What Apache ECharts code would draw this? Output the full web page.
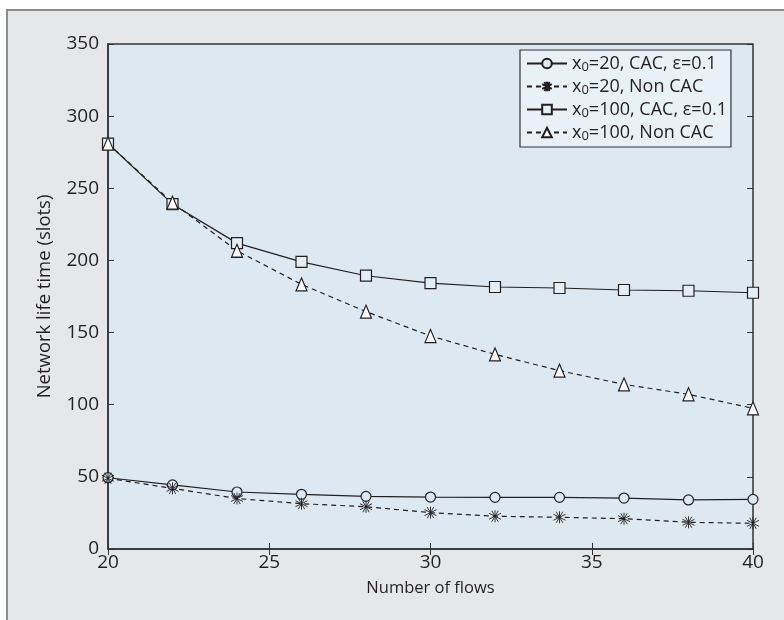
<!DOCTYPE html>
<html>
<head>
<meta charset="utf-8">
<script src="https://cdn.jsdelivr.net/npm/echarts@6/dist/echarts.min.js"></script>
<style>
  * { margin: 0; padding: 0; }
  body { background: #ffffff; }
  #frame {
    position: absolute;
    left: 6px;
    top: 9px;
    width: 800px;
    height: 609px;
    background: #e6e7e8;
    border-left: 2px solid #8d8d8d;
    border-top: 2px solid #8d8d8d;
    border-bottom: 2px solid #8d8d8d;
  }
  #chart {
    position: absolute;
    left: 0;
    top: 0;
    width: 784px;
    height: 620px;
  }
</style>
</head>
<body>
<div id="frame"></div>
<div id="chart"></div>
<script>
// number of flows
var flows = [20, 22, 24, 26, 28, 30, 32, 34, 36, 38, 40]
// network life time (slots)
var x20Cac = [49.4, 44.4, 39.5, 37.9, 36.5, 36.0, 35.8, 35.8, 35.3, 34.0, 34.4]
var x20NonCac = [49.0, 42.0, 35.0, 31.4, 29.3, 25.2, 22.7, 22.0, 21.0, 18.5, 17.8]
var x100Cac = [281, 239, 212, 199, 189.4, 184.3, 181.6, 180.9, 179.5, 179.0, 177.6]
var x100NonCac = [281, 240, 206.7, 183.4, 164.5, 147.6, 134.9, 123.6, 114.1, 107.2, 97.5]

var names = ['x0=20, CAC, ε=0.1', 'x0=20, Non CAC', 'x0=100, CAC, ε=0.1', 'x0=100, Non CAC']

function pairs(ys) {
  return flows.map(function (f, i) { return [f, ys[i]] })
}

var font = '"Open Sans", "Noto Sans", sans-serif'
var ink = '#231f20'
var starPath = 'path://M0,-5L0,5M-4.6,-2.5L4.6,2.5M-4.6,2.5L4.6,-2.5M-2.5,-4.6L2.5,4.6M2.5,-4.6L-2.5,4.6'

function mkSeries(name, ys, symbol, size, fill, dashed, bw) {
  return {
    name: name,
    type: 'line',
    data: pairs(ys),
    symbol: symbol,
    symbolSize: size,
    showAllSymbol: true,
    lineStyle: { color: ink, width: 1.2, type: dashed ? [5, 4] : 'solid' },
    itemStyle: { color: fill, borderColor: ink, borderWidth: bw },
    emphasis: { disabled: true },
    z: 3
  }
}

var chart = echarts.init(document.getElementById('chart'))
chart.setOption({
  animation: false,
  textStyle: { fontFamily: font },
  grid: {
    left: 108, right: 31, top: 44, bottom: 71,
    show: true,
    backgroundColor: '#dce9f3',
    borderColor: '#333333',
    borderWidth: 1.5
  },
  legend: {
    orient: 'vertical',
    left: 520,
    top: 50,
    padding: [3, 4, 4, 6],
    itemGap: 2,
    itemWidth: 40,
    itemHeight: 12,
    backgroundColor: '#e9f1f8',
    borderColor: '#333333',
    borderWidth: 1.2,
    borderRadius: 0,
    data: names,
    formatter: function (n) { return n.replace('x0', 'x{sub|0}') },
    textStyle: {
      fontFamily: font,
      fontSize: 18,
      color: ink,
      lineHeight: 21,
      rich: {
        sub: { fontSize: 13, fontFamily: font, color: ink, padding: [8, 0, 0, 0] }
      }
    }
  },
  xAxis: [{
    type: 'value',
    min: 20, max: 40, interval: 5,
    name: 'Number of flows',
    nameLocation: 'middle',
    nameGap: 31,
    nameTextStyle: { fontSize: 16.5, color: ink },
    axisLine: { lineStyle: { color: '#333333', width: 1.5 } },
    axisTick: { inside: true, length: 6, lineStyle: { color: '#333333' } },
    axisLabel: { fontSize: 19, color: ink, margin: 4 },
    splitLine: { show: false }
  }, {
    type: 'value',
    position: 'top',
    min: 20, max: 40, interval: 5,
    axisLine: { show: false },
    axisTick: { inside: true, length: 6, lineStyle: { color: '#333333' } },
    axisLabel: { show: false },
    splitLine: { show: false }
  }],
  yAxis: [{
    type: 'value',
    min: 0, max: 350, interval: 50,
    name: 'Network life time (slots)',
    nameLocation: 'middle',
    nameGap: 54,
    nameTextStyle: { fontSize: 18.5, color: ink },
    axisLine: { show: true, lineStyle: { color: '#333333', width: 1.5 } },
    axisTick: { show: true, inside: true, length: 6, lineStyle: { color: '#333333' } },
    axisLabel: { fontSize: 19, color: ink, margin: 9 },
    splitLine: { show: false }
  }, {
    type: 'value',
    position: 'right',
    min: 0, max: 350, interval: 50,
    axisLine: { show: false },
    axisTick: { show: true, inside: true, length: 6, lineStyle: { color: '#333333' } },
    axisLabel: { show: false },
    splitLine: { show: false }
  }],
  series: [
    mkSeries(names[0], x20Cac, 'circle', 10, '#dce9f3', false, 1.2),
    mkSeries(names[1], x20NonCac, starPath, 12, ink, true, 0.9),
    mkSeries(names[2], x100Cac, 'rect', 11, '#e4eef6', false, 1.2),
    mkSeries(names[3], x100NonCac, 'triangle', [11, 13], '#ffffff', true, 1.2)
  ]
})
</script>
</body>
</html>
